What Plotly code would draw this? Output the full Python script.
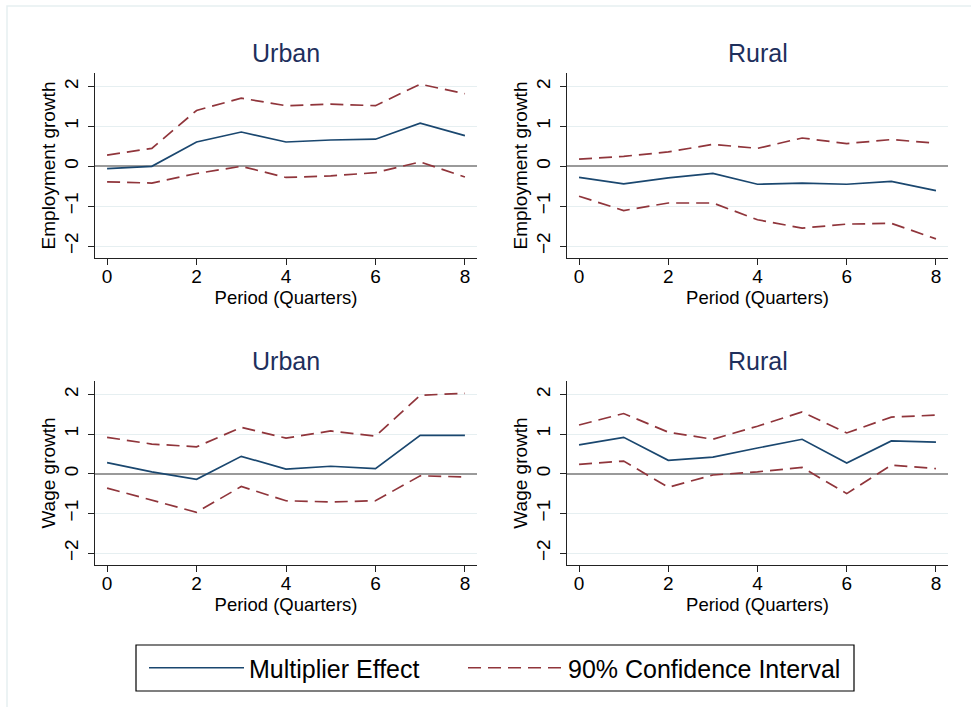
import plotly.graph_objects as go

periods = [0, 1, 2, 3, 4, 5, 6, 7, 8]

emp_urban_effect = [-0.06, 0.00, 0.61, 0.86, 0.61, 0.66, 0.68, 1.08, 0.77]
emp_urban_upper = [0.28, 0.45, 1.40, 1.71, 1.52, 1.56, 1.52, 2.06, 1.82]
emp_urban_lower = [-0.39, -0.42, -0.18, 0.00, -0.28, -0.24, -0.16, 0.11, -0.27]

emp_rural_effect = [-0.28, -0.44, -0.29, -0.18, -0.45, -0.42, -0.45, -0.38, -0.61]
emp_rural_upper = [0.18, 0.25, 0.36, 0.55, 0.45, 0.71, 0.57, 0.67, 0.58]
emp_rural_lower = [-0.75, -1.11, -0.92, -0.92, -1.34, -1.55, -1.45, -1.43, -1.82]

wage_urban_effect = [0.28, 0.05, -0.14, 0.44, 0.12, 0.19, 0.13, 0.97, 0.97]
wage_urban_upper = [0.92, 0.75, 0.68, 1.17, 0.90, 1.08, 0.95, 1.98, 2.03]
wage_urban_lower = [-0.36, -0.67, -0.97, -0.32, -0.68, -0.71, -0.68, -0.05, -0.08]

wage_rural_effect = [0.73, 0.92, 0.34, 0.42, 0.65, 0.87, 0.27, 0.83, 0.80]
wage_rural_upper = [1.23, 1.52, 1.05, 0.87, 1.20, 1.56, 1.03, 1.43, 1.48]
wage_rural_lower = [0.24, 0.32, -0.34, -0.03, 0.05, 0.16, -0.50, 0.22, 0.13]

panel_titles = ["Urban", "Rural", "Urban", "Rural"]
y_titles = ["Employment growth", "Employment growth", "Wage growth", "Wage growth"]
x_title = "Period (Quarters)"
x_ticks = [0, 2, 4, 6, 8]
y_ticks = [-2, -1, 0, 1, 2]
legend_names = ["Multiplier Effect", "90% Confidence Interval"]

panels = [
    (emp_urban_effect, emp_urban_upper, emp_urban_lower),
    (emp_rural_effect, emp_rural_upper, emp_rural_lower),
    (wage_urban_effect, wage_urban_upper, wage_urban_lower),
    (wage_rural_effect, wage_rural_upper, wage_rural_lower),
]

W, H = 971, 707
NAVY = "#1a476f"
MAROON = "#90353b"
FONT = "Liberation Sans, Arial, sans-serif"

# pixel geometry of the plot regions
xdoms_px = [(95, 477), (567, 948), (95, 477), (567, 948)]
ydoms_px = [(73, 258), (73, 258), (381, 565), (381, 565)]

fig = go.Figure()
annotations = []
for i, (eff, up, lo) in enumerate(panels):
    n = i + 1
    xa = "x" if n == 1 else f"x{n}"
    ya = "y" if n == 1 else f"y{n}"
    fig.add_trace(go.Scatter(x=periods, y=eff, mode="lines", xaxis=xa, yaxis=ya,
                             line=dict(color=NAVY, width=1.7),
                             name=legend_names[0], showlegend=(i == 0), legend="legend"))
    fig.add_trace(go.Scatter(x=periods, y=up, mode="lines", xaxis=xa, yaxis=ya,
                             line=dict(color=MAROON, width=1.7, dash="13px,7px"),
                             name=legend_names[1], showlegend=(i == 0), legend="legend2"))
    fig.add_trace(go.Scatter(x=periods, y=lo, mode="lines", xaxis=xa, yaxis=ya,
                             line=dict(color=MAROON, width=1.7, dash="13px,7px"),
                             name=legend_names[1], showlegend=False, legend="legend2"))
    x0, x1 = xdoms_px[i]
    yt, yb = ydoms_px[i]
    xkey = "xaxis" if n == 1 else f"xaxis{n}"
    ykey = "yaxis" if n == 1 else f"yaxis{n}"
    fig.update_layout(**{
        xkey: dict(domain=[x0 / W, x1 / W], anchor=ya, range=[-0.27, 8.27],
                   tickvals=x_ticks, ticks="outside", ticklen=6, tickcolor="#222",
                   ticklabelstandoff=-5,
                   showline=True, linecolor="#222", linewidth=1, showgrid=False,
                   zeroline=False, tickfont=dict(size=19, color="#000", family=FONT),
                   title=dict(text=x_title, font=dict(size=18.5, color="#000", family=FONT), standoff=0)),
        ykey: dict(domain=[1 - yb / H, 1 - yt / H], anchor=xa, range=[-2.3, 2.34],
                   tickvals=y_ticks, ticks="outside", ticklen=6, tickcolor="#222",
                   tickangle=-90, ticklabelstandoff=2,
                   showline=True, linecolor="#222", linewidth=1,
                   showgrid=True, gridcolor="#e6eff1", gridwidth=1,
                   zeroline=True, zerolinecolor="#9a9a9a", zerolinewidth=1.5,
                   tickfont=dict(size=19, color="#000", family=FONT),
                   title=dict(text=y_titles[i], font=dict(size=19, color="#000", family=FONT), standoff=0)),
    })
    annotations.append(dict(text=panel_titles[i], x=(x0 + x1) / 2 / W, y=1 - (yt - 20) / H,
                            xref="paper", yref="paper", xanchor="center", yanchor="middle",
                            showarrow=False, font=dict(size=25, color="#1e2f5c", family=FONT)))

legend_style = dict(orientation="h", yanchor="middle", y=1 - 668 / H, xanchor="left",
                    bgcolor="rgba(0,0,0,0)", borderwidth=0,
                    font=dict(size=25, color="#000", family=FONT), itemwidth=95)

fig.update_layout(
    width=W, height=H,
    margin=dict(l=0, r=0, t=0, b=0),
    paper_bgcolor="white", plot_bgcolor="white",
    annotations=annotations,
    shapes=[
        dict(type="rect", xref="paper", yref="paper", x0=7 / W, x1=1.02, y0=-0.02, y1=1 - 6 / H,
             line=dict(color="#e6eff1", width=1.5), fillcolor="rgba(0,0,0,0)", layer="below"),
        dict(type="rect", xref="paper", yref="paper", x0=136 / W, x1=854 / W,
             y0=1 - 691 / H, y1=1 - 645 / H,
             line=dict(color="#000", width=1.2), fillcolor="rgba(0,0,0,0)", layer="below"),
    ],
    legend=dict(legend_style, x=144 / W),
    legend2=dict(legend_style, x=463 / W),
    showlegend=True,
)

fig.write_html("out.html", config={"displayModeBar": False},
               post_script="document.body.style.margin='0';")
